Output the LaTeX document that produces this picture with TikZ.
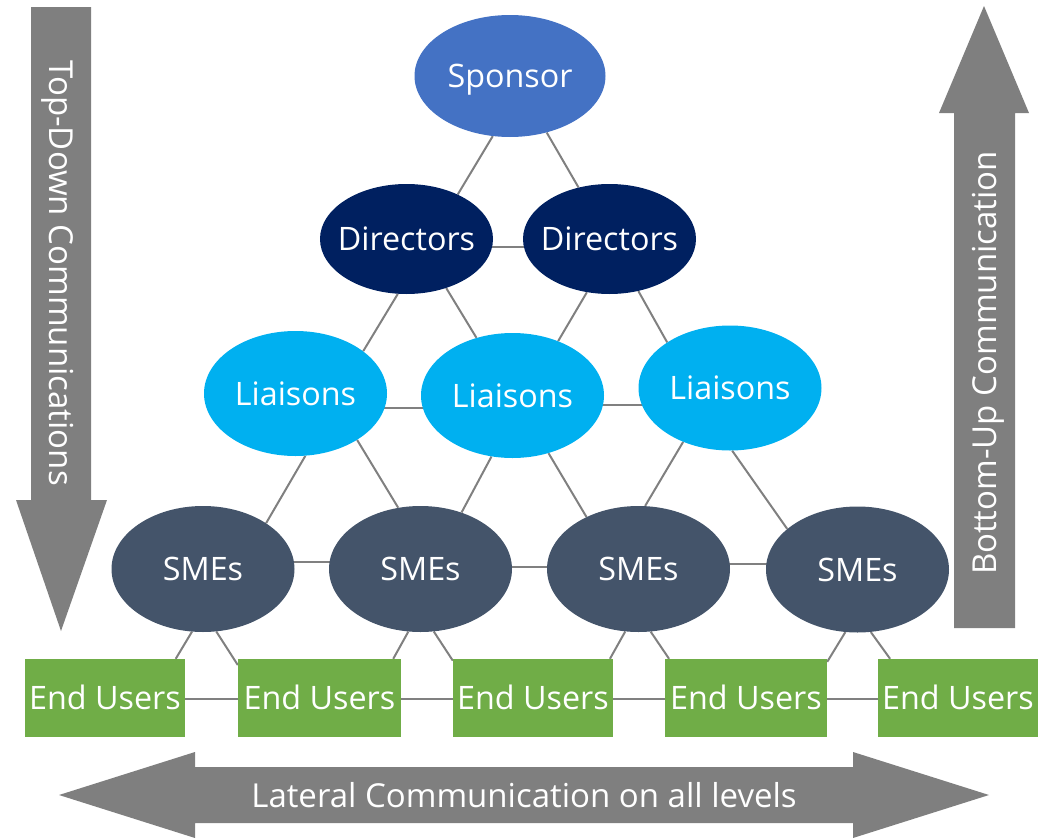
\documentclass[tikz,border=0pt]{standalone}
\usepackage{fontspec}
\setmainfont{Open Sans}
\usetikzlibrary{shapes.geometric,backgrounds}
\definecolor{sponsorc}{HTML}{4472C4}
\definecolor{dirc}{HTML}{002060}
\definecolor{liac}{HTML}{00B0F0}
\definecolor{smec}{HTML}{44546A}
\definecolor{euc}{HTML}{70AD47}
\definecolor{arrc}{HTML}{7F7F7F}
\definecolor{linec}{HTML}{808080}
\begin{document}
\begin{tikzpicture}[x=1pt,y=-1pt,
  lbl/.style={font=\fontsize{32.3}{38}\selectfont, text=white, text height=23pt, text depth=0pt},
  arrlbl/.style={font=\fontsize{33}{38}\selectfont, text=white, text height=23.5pt, text depth=0pt},
  ell/.style={ellipse, inner sep=0pt, lbl},
  sponsorell/.style={ell, fill=sponsorc, minimum width=191pt, minimum height=122pt},
  direll/.style={ell, fill=dirc, minimum width=173pt, minimum height=110pt},
  liaell/.style={ell, fill=liac, minimum width=183pt, minimum height=125pt},
  smeell/.style={ell, fill=smec, minimum width=183pt, minimum height=126pt},
  eubox/.style={rectangle, fill=euc, inner sep=0pt, minimum height=78pt, lbl},
  conn/.style={draw=linec, line width=2pt},
  bigarrow/.style={fill=arrc, draw=none}]

\useasboundingbox (0,0) rectangle (1045,838);

% big arrows
\fill[bigarrow] (31,7) -- (91,7) -- (91,500) -- (107,500) -- (61,631) -- (16,500) -- (31,500) -- cycle;
\node[arrlbl, rotate=-90] (tdtext) at (61,273) {Top-Down Communications};
\fill[bigarrow] (954,628) -- (1015,628) -- (1015,113) -- (1029,113) -- (984,6) -- (939,113) -- (954,113) -- cycle;
\node[arrlbl, rotate=90] (butext) at (985,363) {Bottom-Up Communication};
\fill[bigarrow] (59,795) -- (195,752) -- (195,767) -- (853,767) -- (853,752) -- (989,795) -- (853,838) -- (853,823) -- (195,823) -- (195,838) -- cycle;
\node[arrlbl] (lattext) at (524,796) {Lateral Communication on all levels};

% nodes
\node[sponsorell] (spon) at (510,76) {\makebox[0pt]{Sponsor}};
\node[direll] (dirL) at (406.5,239) {\makebox[0pt]{Directors}};
\node[direll] (dirR) at (609.5,239) {\makebox[0pt]{Directors}};
\node[liaell] (liaL) at (295.5,393.5) {\makebox[0pt]{Liaisons}};
\node[liaell] (liaM) at (512.5,395.5) {\makebox[0pt]{Liaisons}};
\node[liaell] (liaR) at (730,388) {\makebox[0pt]{Liaisons}};
\node[smeell] (sme1) at (203,569) {\makebox[0pt]{SMEs}};
\node[smeell] (sme2) at (420.5,569) {\makebox[0pt]{SMEs}};
\node[smeell] (sme3) at (638.5,569) {\makebox[0pt]{SMEs}};
\node[smeell] (sme4) at (857.5,569.5) {\makebox[0pt]{SMEs}};
\node[eubox, minimum width=160pt] (eu1) at (105,698) {\makebox[0pt]{End Users}};
\node[eubox, minimum width=163pt] (eu2) at (319.5,698) {\makebox[0pt]{End Users}};
\node[eubox, minimum width=160pt] (eu3) at (533,698) {\makebox[0pt]{End Users}};
\node[eubox, minimum width=162pt] (eu4) at (746,698) {\makebox[0pt]{End Users}};
\node[eubox, minimum width=160pt] (eu5) at (958,698) {\makebox[0pt]{End Users}};

% connectors
\begin{pgfonlayer}{background}
\draw[conn] (spon.-106.4) -- (dirL.41.7);
\draw[conn] (spon.-57) -- (dirR.121.2);
\draw[conn] ([yshift=-8pt]dirL.center) -- ([yshift=-8pt]dirR.center);
\draw[conn] (dirL.-99.8) -- (liaL.32.2);
\draw[conn] (dirL.-51) -- (liaM.122);
\draw[conn] (dirR.-113.5) -- (liaM.50.7);
\draw[conn] (dirR.-61.3) -- (liaR.144);
\draw[conn] ([yshift=-14.5pt]liaL.center) -- ([yshift=-12.5pt]liaM.center);
\draw[conn] ([yshift=-9.5pt]liaM.center) -- ([yshift=-17pt]liaR.center);
\draw[conn] (liaL.-81.5) -- (sme1.36.3);
\draw[conn] (liaL.-37.8) -- (sme2.110.8);
\draw[conn] (liaM.-109) -- (sme2.54);
\draw[conn] (liaM.-58.3) -- (sme3.135.8);
\draw[conn] (liaR.-131) -- (sme3.84.2);
\draw[conn] (liaR.-88.2) -- (sme4.150.1);
\draw[conn] ([yshift=7pt]sme1.center) -- ([yshift=7pt]sme2.center);
\draw[conn] ([yshift=2pt]sme2.center) -- ([yshift=2pt]sme3.center);
\draw[conn] ([yshift=5pt]sme3.center) -- ([yshift=5.5pt]sme4.center);
\draw[conn] (sme1.-100.8) -- (eu1.29.5);
\draw[conn] (sme1.-78.3) -- (eu2.158.2);
\draw[conn] (sme2.-101.2) -- (eu2.28.6);
\draw[conn] (sme2.-78.8) -- (eu3.155.8);
\draw[conn] (sme3.-102.1) -- (eu3.27.5);
\draw[conn] (sme3.-79.7) -- (eu4.153.4);
\draw[conn] (sme4.-101.3) -- (eu4.24);
\draw[conn] (sme4.-78.7) -- (eu5.150.9);
\draw[conn] ([yshift=-1pt]eu1.center) -- ([yshift=-1pt]eu2.center);
\draw[conn] ([yshift=-1pt]eu2.center) -- ([yshift=-1pt]eu3.center);
\draw[conn] ([yshift=-1pt]eu3.center) -- ([yshift=-1pt]eu4.center);
\draw[conn] ([yshift=-1pt]eu4.center) -- ([yshift=-1pt]eu5.center);
\end{pgfonlayer}
\end{tikzpicture}
\end{document}
